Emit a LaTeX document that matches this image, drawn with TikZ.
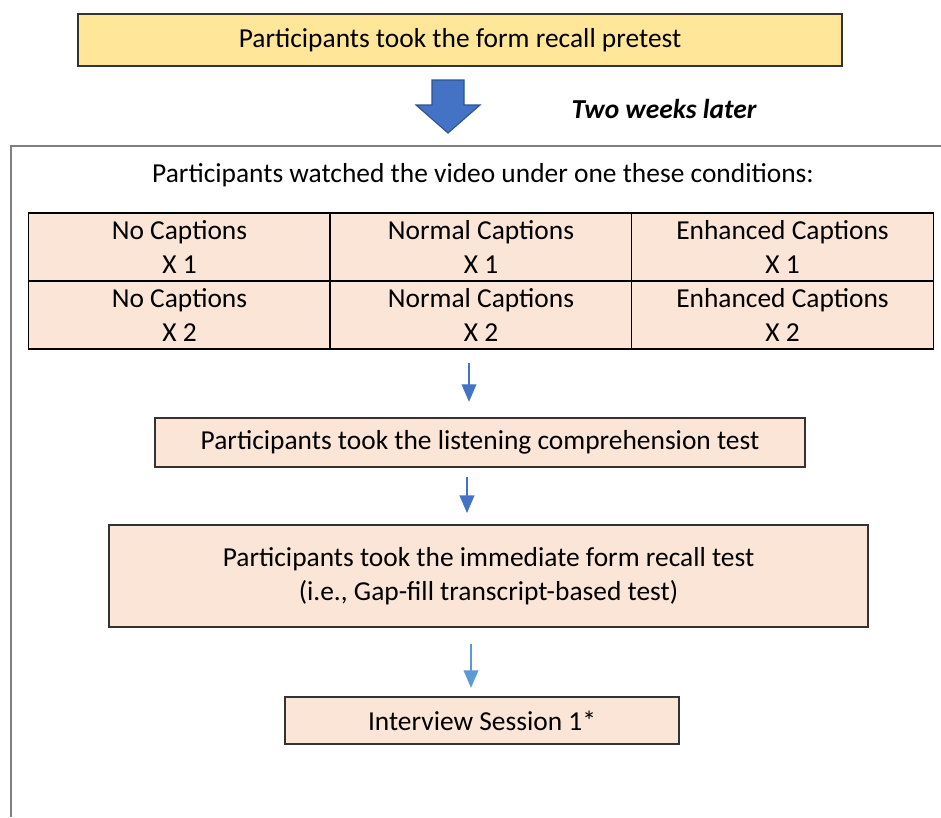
\documentclass[tikz,border=0pt]{standalone}
\usepackage{fontspec}
\setmainfont{Carlito}
\usetikzlibrary{arrows.meta}
\definecolor{pretestyellow}{HTML}{FFE699}
\definecolor{peach}{HTML}{FBE5D6}
\definecolor{bigblue}{HTML}{4472C4}
\definecolor{bigblueedge}{HTML}{2F528F}
\definecolor{lightblue}{HTML}{5B9BD5}
\definecolor{framegray}{HTML}{7F7F7F}
\newcommand{\bodysize}{\fontsize{19.5}{24.2}\selectfont}

\begin{document}
\begin{tikzpicture}[x=0.025cm,y=-0.025cm,
  every node/.style={font=\bodysize, align=center, inner sep=0pt},
  stepbox/.style={draw=black!80, line width=1pt, fill=peach},
  cell/.style={draw=black, line width=1.1pt, fill=peach, minimum width=7.54cm, minimum height=1.7cm},
  thinarrow/.style={line width=1pt, -{Triangle[length=12.5pt,width=10.5pt]}}]
\useasboundingbox (0,0) rectangle (941,817);

% pretest and the two weeks gap
\node[draw=black!80, line width=1pt, fill=pretestyellow, minimum width=19.1cm, minimum height=1.3cm] (pretest) at (460,40) {Participants took the form recall pretest};
\filldraw[fill=bigblue, draw=bigblueedge, line width=0.8pt] (432,80) -- (464,80) -- (464,105) -- (480,105) -- (448,133) -- (416,105) -- (432,105) -- cycle;
\node (later) at (664,109) {\bfseries\itshape Two weeks later};

% session frame
\draw[framegray, line width=1.1pt] (11,817) -- (11,146) -- (941,146);
\node (watched) at (483,175) {Participants watched the video under one these conditions:};

% conditions
\node[cell] (no1) at (179.5,247) {No Captions\\X 1};
\node[cell] (normal1) at (481,247) {Normal Captions\\X 1};
\node[cell] (enhanced1) at (782.5,247) {Enhanced Captions\\X 1};
\node[cell] (no2) at (179.5,315) {No Captions\\X 2};
\node[cell] (normal2) at (481,315) {Normal Captions\\X 2};
\node[cell] (enhanced2) at (782.5,315) {Enhanced Captions\\X 2};

% tests
\node[stepbox, minimum width=16.25cm, minimum height=1.225cm] (listening) at (480,442.5) {Participants took the listening comprehension test};
\node[stepbox, minimum width=18.975cm, minimum height=2.55cm] (recall) at (488.5,576) {Participants took the immediate form recall test\\(i.e., Gap-fill transcript-based test)};
\node[stepbox, minimum width=9.85cm, minimum height=1.175cm] (interview) at (482,720.5) {Interview Session 1*};

\coordinate (a1) at (469,349);
\coordinate (a2) at (467,467);
\coordinate (a3) at (471,627);
\draw[thinarrow, bigblue, shorten <=10pt, shorten >=11pt] (a1) -- (a1 |- listening.north);
\draw[thinarrow, bigblue, shorten <=7pt, shorten >=8pt] (a2) -- (a2 |- recall.north);
\draw[thinarrow, lightblue, shorten <=12pt, shorten >=6pt] (a3) -- (a3 |- interview.north);
\end{tikzpicture}
\end{document}
